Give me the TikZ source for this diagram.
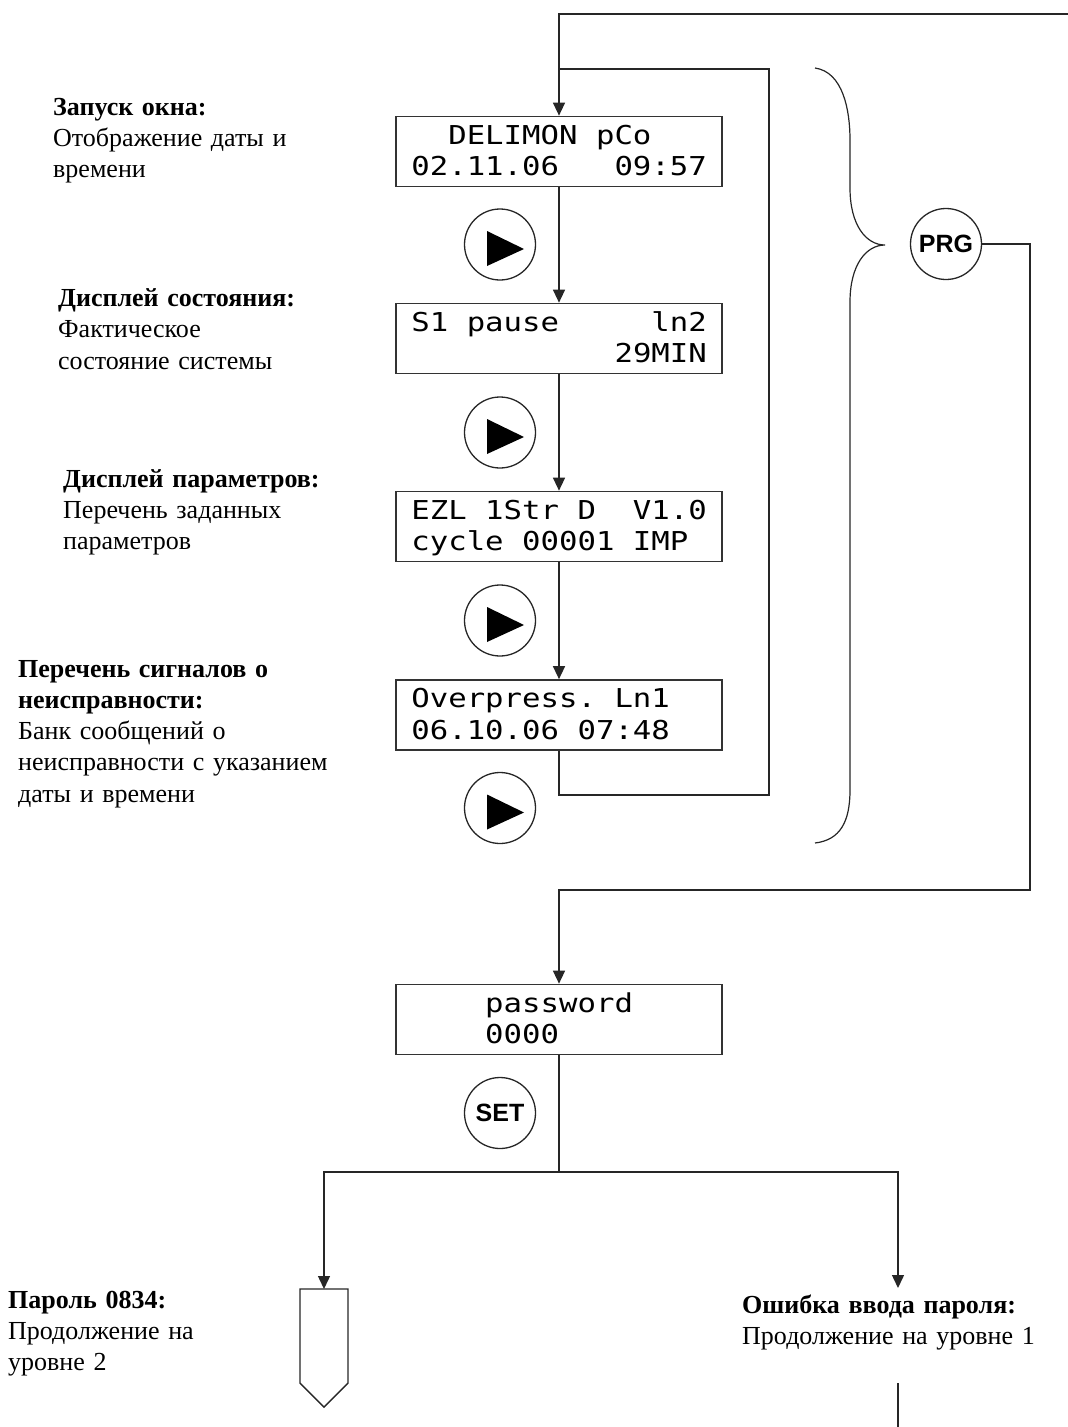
\documentclass[tikz,border=0pt]{standalone}
\usepackage{fontspec}
\setmainfont{Liberation Serif}
\newfontfamily\lcdfont[FakeStretch=1.18]{DejaVu Sans Mono}
\newfontfamily\keyfont{Liberation Sans}
\usetikzlibrary{arrows.meta}
% one blank display column
\newcommand\lsp{\phantom{0}}

\begin{document}
\begin{tikzpicture}[x=1pt,y=-1pt,
  line/.style={draw=black!85, line width=1.4pt},
  arr/.style={line, -{Triangle[length=13pt,width=12pt]}},
  lcdbox/.style={draw=black!80, line width=1.7pt, minimum width=326pt,
    minimum height=70pt, inner sep=0pt},
  lcdtext/.style={anchor=base west, inner sep=0pt, text width=300pt, align=left,
    font=\lcdfont\fontsize{26}{31.5}\selectfont},
  key/.style={circle, draw=black!85, line width=1.3pt, minimum size=71pt,
    inner sep=0pt, font=\keyfont\bfseries\fontsize{25}{25}\selectfont},
  playkey/.style={key, path picture={
    \fill[black] ([shift={(-13,-13.5)}]path picture bounding box.center)
      -- ([shift={(-13,21.5)}]path picture bounding box.center)
      -- ([shift={(24,4.5)}]path picture bounding box.center) -- cycle;}},
  note/.style={anchor=base west, inner sep=0pt, text width=340pt, align=left,
    font=\fontsize{26}{31.3}\selectfont},
]
\useasboundingbox (0,0) rectangle (1068,1427);

% display windows
\node[lcdbox] (b1) at (559,151.5) {};
\node[lcdbox] (b2) at (559,338.5) {};
\node[lcdbox] (b3) at (559,526.5) {};
\node[lcdbox] (b4) at (559,715) {};
\node[lcdbox] (pw) at (559,1019.5) {};

\node[lcdtext] (b1t) at ([shift={(16,28.5)}]b1.north west)
  {\lsp\lsp DELIMON\lsp pCo\\02.11.06\lsp\lsp\lsp 09:57};
\node[lcdtext] (b2t) at ([shift={(16,28.5)}]b2.north west)
  {S1\lsp pause\lsp\lsp\lsp\lsp\lsp ln2\\\phantom{00000000000}29MIN};
\node[lcdtext] (b3t) at ([shift={(16,28.5)}]b3.north west)
  {EZL\lsp 1Str\lsp D\lsp\lsp V1.0\\cycle\lsp 00001\lsp IMP};
\node[lcdtext] (b4t) at ([shift={(16,28.5)}]b4.north west)
  {Overpress.\lsp Ln1\\06.10.06\lsp 07:48};
\node[lcdtext] (pwt) at ([shift={(16,28.5)}]pw.north west)
  {\phantom{0000}password\\\phantom{0000}0000};

% keys
\node[playkey] (p1) at (500,244.5) {};
\node[playkey] (p2) at (500,432.5) {};
\node[playkey] (p3) at (500,620.5) {};
\node[playkey] (p4) at (500,808) {};
\node[key] (prg) at (946,244) {PRG};
\node[key] (set) at (500,1113) {SET};

% brace grouping the four windows
\draw[line, line width=1.2pt] (815,68) .. controls (843,72) and (850,110) .. (850,140)
  -- (850,188) .. controls (850,225) and (866,245) .. (885,245)
  .. controls (866,245) and (850,265) .. (850,302)
  -- (850,790) .. controls (850,822) and (840,840) .. (815,843);

% level 2 continuation marker
\draw[line] (300,1289) -- (348,1289) -- (348,1383) -- (324,1407) -- (300,1383) -- cycle;
\coordinate (lvl2) at (324,1289);

% text notes
\node[note] (n1) at (53,115) {\textbf{Запуск окна:}\\Отображение даты и\\времени};
\node[note] (n2) at (58,306.5) {\textbf{Дисплей состояния:}\\Фактическое\\состояние системы};
\node[note] (n3) at (63,487) {\textbf{Дисплей параметров:}\\Перечень заданных\\параметров};
\node[note] (n4) at (18,677) {\textbf{Перечень сигналов о}\\\textbf{неисправности:}\\Банк сообщений о\\неисправности с указанием\\даты и времени};
\node[note] (n5) at (8,1308) {\textbf{Пароль 0834:}\\Продолжение на\\уровне 2};
\node[note] (n6) at (742,1313) {\textbf{Ошибка ввода пароля:}\\Продолжение на уровне 1};

% connectors
\coordinate (topR) at (1068,14);
\coordinate (loopBR) at (769,795);
\coordinate (loopTL) at (559,69);
\coordinate (prgR) at (1030,890);
\coordinate (fork) at (559,1172);
\coordinate (errTip) at (898,1288);
\coordinate (backTop) at (898,1383);
\coordinate (backBot) at (898,1427);

\draw[arr] (topR) -| (b1.north);
\draw[line] (b4.south) |- (loopBR) |- (loopTL);
\draw[arr] (b1.south) -- (b2.north);
\draw[arr] (b2.south) -- (b3.north);
\draw[arr] (b3.south) -- (b4.north);
\draw[arr] (prg.east) -| (prgR) -| (pw.north);
\draw[line] (pw.south) -- (fork);
\draw[arr] (fork) -| (lvl2);
\draw[arr] (fork) -| (errTip);
\draw[line] (backTop) -- (backBot);
\end{tikzpicture}
\end{document}
